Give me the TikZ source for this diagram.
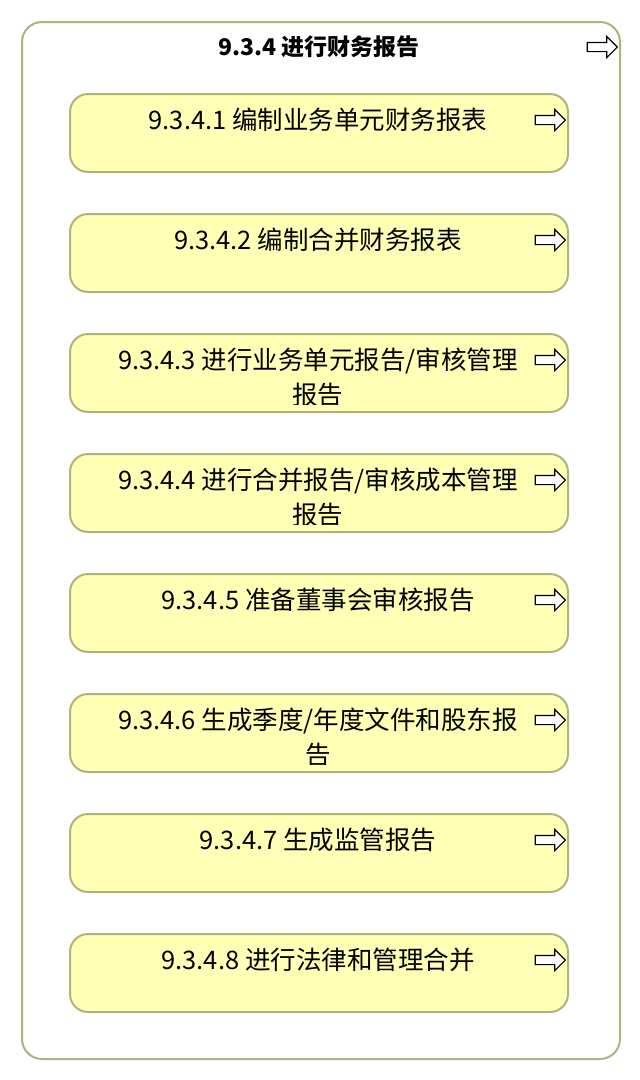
\documentclass[tikz,border=0pt]{standalone}
\usepackage{fontspec}
\setmainfont{Noto Sans CJK SC}
\usetikzlibrary{shapes,arrows,positioning,calc}
\definecolor{boxline}{RGB}{178,178,122}
\definecolor{boxfill}{RGB}{255,255,181}

\begin{document}
\begin{tikzpicture}
    % Styles
        \tikzstyle{group} = [rectangle, draw=boxline, fill=white, rounded corners=20pt, line width=2pt, minimum width=598pt, minimum height=1037pt, inner sep=0pt]
        \tikzstyle{block} = [rectangle, draw=boxline, fill=boxfill, rounded corners=18pt, line width=2pt, minimum width=498pt, minimum height=78pt, inner sep=0pt]
        \tikzstyle{heading} = [font=\fontsize{23}{27}\selectfont\bfseries, anchor=north, inner sep=0pt]
        \tikzstyle{caption} = [font=\fontsize{25.5}{35}\selectfont, align=center, anchor=north, inner sep=0pt]
        \tikzstyle{goarrow} = [single arrow, draw, fill=white, line width=1.1pt, inner sep=4pt, minimum height=30pt, single arrow head extend=6pt]
    \useasboundingbox (0pt,0pt) rectangle (640pt,-1080pt);
    % container
        \node [group, anchor=north west] (report) at (21pt,-21pt) {};
        \node [heading] (reporttitle) at ($(report.north)+(-2pt,-15pt)$) {9.3.4 进行财务报告};
        \node [goarrow] (reportgo) at ($(report.north east)+(-21pt,-26pt)$) {};
    % boxes
        \node [block, anchor=north west] (unitstatements) at (69pt,-93pt) {};
        \node [block, below = 40pt of unitstatements] (consolidated) {};
        \node [block, below = 40pt of consolidated] (unitreports) {};
        \node [block, below = 40pt of unitreports] (costreports) {};
        \node [block, below = 40pt of costreports] (boardreports) {};
        \node [block, below = 40pt of boardreports] (filings) {};
        \node [block, below = 40pt of filings] (regulatory) {};
        \node [block, below = 40pt of regulatory] (legalmgmt) {};
    % box texts
        \node [caption] (unitstatementstext) at ($(unitstatements.north)+(-1pt,-15pt)$) {9.3.4.1 编制业务单元财务报表};
        \node [caption] (consolidatedtext) at ($(consolidated.north)+(-1pt,-15pt)$) {9.3.4.2 编制合并财务报表};
        \begin{scope}
            \clip ($(unitreports.south west)+(0pt,9pt)$) rectangle (unitreports.north east);
            \node [caption] (unitreportstext) at ($(unitreports.north)+(-1pt,-15pt)$) {9.3.4.3 进行业务单元报告/审核管理\\报告};
        \end{scope}
        \begin{scope}
            \clip ($(costreports.south west)+(0pt,9pt)$) rectangle (costreports.north east);
            \node [caption] (costreportstext) at ($(costreports.north)+(-1pt,-15pt)$) {9.3.4.4 进行合并报告/审核成本管理\\报告};
        \end{scope}
        \node [caption] (boardreportstext) at ($(boardreports.north)+(-1pt,-15pt)$) {9.3.4.5 准备董事会审核报告};
        \begin{scope}
            \clip ($(filings.south west)+(0pt,9pt)$) rectangle (filings.north east);
            \node [caption] (filingstext) at ($(filings.north)+(-1pt,-15pt)$) {9.3.4.6 生成季度/年度文件和股东报\\告};
        \end{scope}
        \node [caption] (regulatorytext) at ($(regulatory.north)+(-1pt,-15pt)$) {9.3.4.7 生成监管报告};
        \node [caption] (legalmgmttext) at ($(legalmgmt.north)+(-1pt,-15pt)$) {9.3.4.8 进行法律和管理合并};
    % arrow icons
        \node [goarrow] (unitstatementsgo) at ($(unitstatements.north east)+(-21pt,-27pt)$) {};
        \node [goarrow] (consolidatedgo) at ($(consolidated.north east)+(-21pt,-27pt)$) {};
        \node [goarrow] (unitreportsgo) at ($(unitreports.north east)+(-21pt,-27pt)$) {};
        \node [goarrow] (costreportsgo) at ($(costreports.north east)+(-21pt,-27pt)$) {};
        \node [goarrow] (boardreportsgo) at ($(boardreports.north east)+(-21pt,-27pt)$) {};
        \node [goarrow] (filingsgo) at ($(filings.north east)+(-21pt,-27pt)$) {};
        \node [goarrow] (regulatorygo) at ($(regulatory.north east)+(-21pt,-27pt)$) {};
        \node [goarrow] (legalmgmtgo) at ($(legalmgmt.north east)+(-21pt,-27pt)$) {};
\end{tikzpicture}
\end{document}
